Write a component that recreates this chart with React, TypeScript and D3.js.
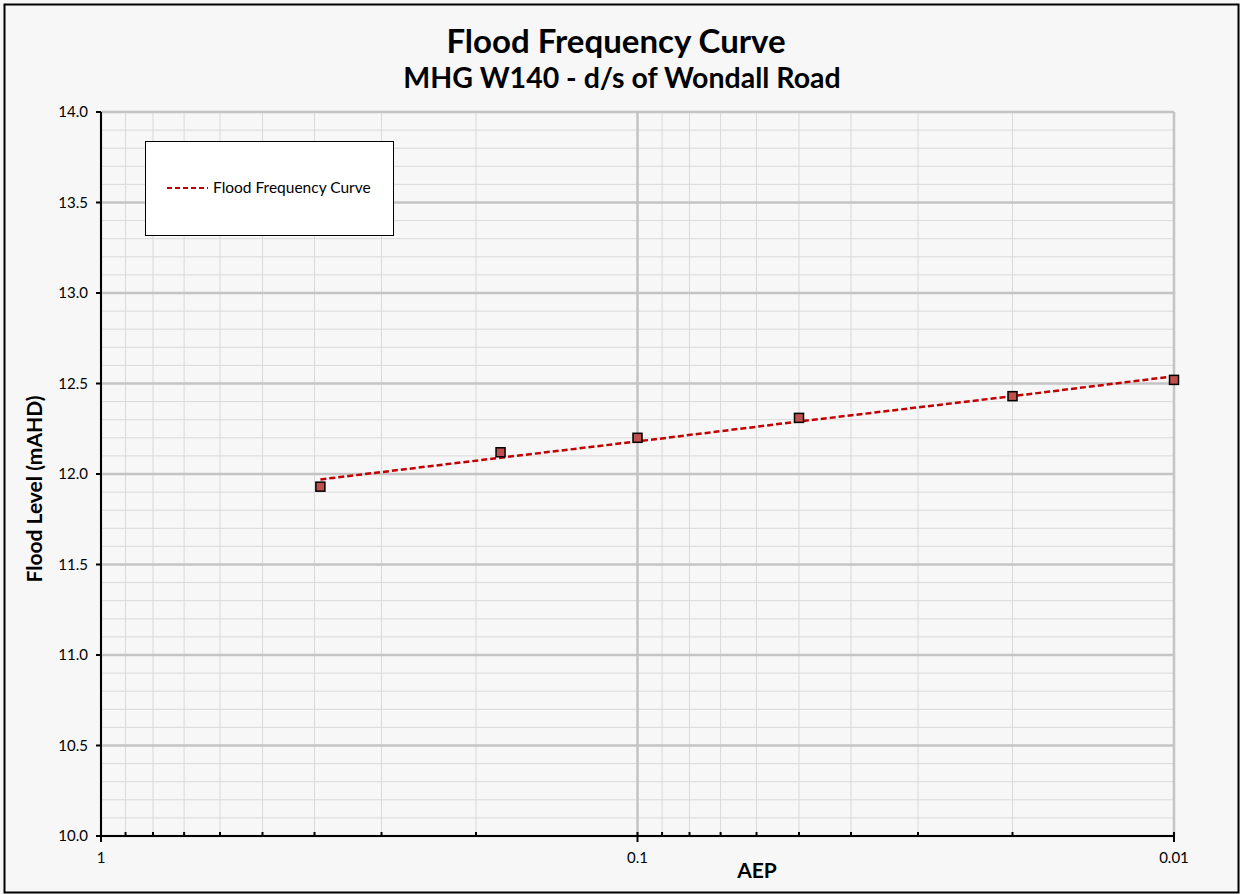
import React from "react";
import * as d3 from "d3";

// chart data
const aep = [0.39, 0.18, 0.1, 0.05, 0.02, 0.01];
const floodLevels = [11.93, 12.12, 12.2, 12.31, 12.43, 12.52];
const trendLevels = [11.97, 12.09, 12.18, 12.29, 12.43, 12.54];
const xTickLabels = ["1", "0.1", "0.01"];
const xTickValues = [1, 0.1, 0.01];
const yTickValues = [10, 10.5, 11, 11.5, 12, 12.5, 13, 13.5, 14];

const WIDTH = 1240;
const HEIGHT = 894;
const FONT = "Lato, 'Open Sans', sans-serif";

const margin = { left: 101, right: 66, top: 112, bottom: 58 };

const App = () => {
  const x = d3
    .scaleLog()
    .domain([1, 0.01])
    .range([margin.left, WIDTH - margin.right]);
  const y = d3
    .scaleLinear()
    .domain([10, 14])
    .range([HEIGHT - margin.bottom, margin.top]);

  const [x0, x1] = x.range();
  const [y0, y1] = y.range();

  // minor log ticks: 2..9 within each decade
  const minorX: number[] = [];
  [0.01, 0.1].forEach(base => {
    for (let k = 2; k <= 9; k++) minorX.push(base * k);
  });
  // minor horizontal gridlines every 0.1 (skip the 0.5 majors)
  const minorY = d3.range(1, 40).map(i => 10 + i / 10).filter((_, i) => (i + 1) % 5 !== 0);

  const line = d3
    .line<number>()
    .x((_, i) => x(aep[i]))
    .y(d => y(d));

  return (
    <svg width={WIDTH} height={HEIGHT} style={{ position: "absolute", left: 0, top: 0 }}>
      <rect x={0} y={0} width={WIDTH} height={HEIGHT} fill="#f7f7f7" />
      <rect x={4.5} y={4.5} width={WIDTH - 6} height={HEIGHT - 6} fill="none" stroke="#000" strokeWidth={2} />

      {/* title */}
      <text x={616} y={53} textAnchor="middle" fontFamily={FONT} fontWeight="bold" fontSize={33} fill="#000">
        Flood Frequency Curve
      </text>
      <text x={622} y={88} textAnchor="middle" fontFamily={FONT} fontWeight="bold" fontSize={28.5} fill="#000">
        MHG W140 - d/s of Wondall Road
      </text>

      {/* minor grid */}
      {minorY.map(v => (
        <line key={"my" + v} x1={x0} x2={x1} y1={y(v)} y2={y(v)} stroke="#d9d9d9" strokeWidth={1} />
      ))}
      {minorX.map(v => (
        <line key={"mx" + v} x1={x(v)} x2={x(v)} y1={y0} y2={y1} stroke="#d9d9d9" strokeWidth={1} />
      ))}
      {/* major grid */}
      {yTickValues.map(v => (
        <line key={"gy" + v} x1={x0} x2={x1} y1={y(v)} y2={y(v)} stroke="#c4c4c4" strokeWidth={2.5} />
      ))}
      {xTickValues.map(v => (
        <line key={"gx" + v} x1={x(v)} x2={x(v)} y1={y0} y2={y1} stroke="#c4c4c4" strokeWidth={2.5} />
      ))}

      {/* axes */}
      <line x1={x0} x2={x1} y1={y0} y2={y0} stroke="#000" strokeWidth={2} />
      <line x1={x0} x2={x0} y1={y0} y2={y1} stroke="#000" strokeWidth={2} />
      {xTickValues.map((v, i) => (
        <g key={"xt" + v}>
          <line x1={x(v)} x2={x(v)} y1={y0 - 4} y2={y0 + 6} stroke="#000" strokeWidth={2} />
          <text x={x(v)} y={y0 + 27} textAnchor="middle" fontFamily={FONT} fontSize={15} fill="#000">
            {xTickLabels[i]}
          </text>
        </g>
      ))}
      {minorX.map(v => (
        <line key={"xm" + v} x1={x(v)} x2={x(v)} y1={y0 - 4} y2={y0} stroke="#000" strokeWidth={2} />
      ))}
      {yTickValues.map(v => (
        <g key={"yt" + v}>
          <line x1={x0 - 5} x2={x0} y1={y(v)} y2={y(v)} stroke="#000" strokeWidth={2} />
          <text x={x0 - 13} y={y(v) + 5} textAnchor="end" fontFamily={FONT} fontSize={15} fill="#000">
            {v.toFixed(1)}
          </text>
        </g>
      ))}

      {/* axis titles */}
      <text x={757} y={878} textAnchor="middle" fontFamily={FONT} fontWeight="bold" fontSize={21} fill="#000">
        AEP
      </text>
      <text
        transform={`translate(42, 489) rotate(-90)`}
        textAnchor="middle"
        fontFamily={FONT}
        fontWeight="bold"
        fontSize={21}
        fill="#000"
      >
        Flood Level (mAHD)
      </text>

      {/* trend line */}
      <path d={line(trendLevels) || ""} fill="none" stroke="#c00000" strokeWidth={2.5} strokeDasharray="6,3" />

      {/* points */}
      {floodLevels.map((v, i) => (
        <rect
          key={"p" + i}
          x={x(aep[i]) - 4.5}
          y={y(v) - 4.5}
          width={9}
          height={9}
          fill="#c0504d"
          stroke="#000"
          strokeWidth={1.5}
        />
      ))}

      {/* legend */}
      <rect x={145.5} y={141.5} width={248} height={94} fill="#fff" stroke="#000" strokeWidth={1} />
      <line x1={167} x2={208} y1={188} y2={188} stroke="#c00000" strokeWidth={2} strokeDasharray="5,3" />
      <text x={213} y={193} fontFamily={FONT} fontSize={15.5} fill="#000">
        Flood Frequency Curve
      </text>
    </svg>
  );
};

export default App;
